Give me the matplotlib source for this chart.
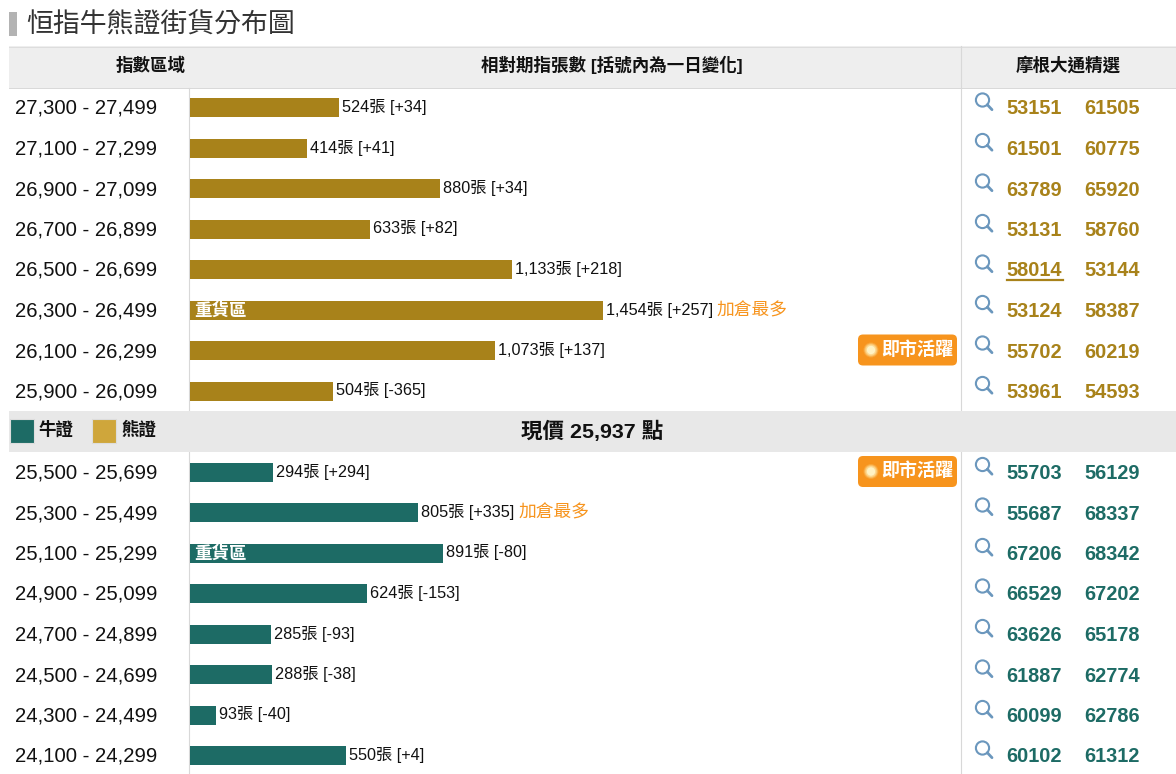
import matplotlib
matplotlib.use('Agg')
import matplotlib.pyplot as plt
from matplotlib.patches import Rectangle, FancyBboxPatch, Circle

plt.rcParams['font.family'] = ['Liberation Sans', 'Noto Sans CJK TC', 'DejaVu Sans']

# 熊證 (上) / 牛證 (下)
bear_ranges = ['27,300 - 27,499', '27,100 - 27,299', '26,900 - 27,099', '26,700 - 26,899',
               '26,500 - 26,699', '26,300 - 26,499', '26,100 - 26,299', '25,900 - 26,099']
bear_values = [524, 414, 880, 633, 1133, 1454, 1073, 504]
bear_change = ['+34', '+41', '+34', '+82', '+218', '+257', '+137', '-365']
bear_codes = [('53151', '61505'), ('61501', '60775'), ('63789', '65920'), ('53131', '58760'),
              ('58014', '53144'), ('53124', '58387'), ('55702', '60219'), ('53961', '54593')]

bull_ranges = ['25,500 - 25,699', '25,300 - 25,499', '25,100 - 25,299', '24,900 - 25,099',
               '24,700 - 24,899', '24,500 - 24,699', '24,300 - 24,499', '24,100 - 24,299']
bull_values = [294, 805, 891, 624, 285, 288, 93, 550]
bull_change = ['+294', '+335', '-80', '-153', '-93', '-38', '-40', '+4']
bull_codes = [('55703', '56129'), ('55687', '68337'), ('67206', '68342'), ('66529', '67202'),
              ('63626', '65178'), ('61887', '62774'), ('60099', '62786'), ('60102', '61312')]

bear_color = '#a8821a'
bull_color = '#1d6b65'
orange = '#f7941d'

W, H = 1176, 774
PX_PER_LOT = 0.2838
ROW_H = 40.5
ROW0 = 107.5


def px(size):
    # 網頁字級 px 轉 pt
    return size * 72 / 100


fig = plt.figure(figsize=(W / 100, H / 100), dpi=100)

# 版面底層, 座標就是像素
bg = fig.add_axes([0, 0, 1, 1])
bg.set_xlim(0, W)
bg.set_ylim(H, 0)
bg.axis('off')

# 長條層, x 是張數, y 是列序號
ax = fig.add_axes([0, 0, 1, 1], facecolor='none')
ax.set_xlim(-190 / PX_PER_LOT, (W - 190) / PX_PER_LOT)
ax.set_ylim((H - ROW0) / ROW_H, -ROW0 / ROW_H)
ax.axis('off')

# 標題
bg.add_patch(Rectangle((9, 12), 8, 24, color='#b3b3b3', lw=0))
bg.text(26, 32, '恒指牛熊證街貨分布圖', fontsize=px(26.9), color='#333333', va='baseline')

# 表頭
bg.add_patch(Rectangle((9, 46), W - 9, 42, color='#eeeeee', lw=0))
bg.plot([9, W], [46.5, 46.5], color='#dddddd', lw=0.7)
bg.plot([9, W], [87.5, 87.5], color='#d8d8d8', lw=0.7)
bg.plot([960.5, 960.5], [46, H], color='#d8d8d8', lw=0.8)
bg.plot([188.5, 188.5], [88, H], color='#d8d8d8', lw=0.8)
bg.text(151, 71, '指數區域', fontsize=px(17.5), fontweight='bold', ha='center', color='#111111')
bg.text(612, 71, '相對期指張數 [括號內為一日變化]', fontsize=px(17.5), fontweight='bold', ha='center', color='#111111')
bg.text(1068, 71, '摩根大通精選', fontsize=px(17.5), fontweight='bold', ha='center', color='#111111')

# 現價列
bg.add_patch(Rectangle((9, 411), W - 9, 41, color='#e8e8e8', lw=0, zorder=3))
bg.add_patch(Rectangle((9.5, 418.5), 24, 24, fc=bull_color, ec='#dddddd', lw=0.8, zorder=4))
bg.add_patch(Rectangle((91.5, 418.5), 24, 24, fc='#cfa63b', ec='#dddddd', lw=0.8, zorder=4))
bg.text(39, 435, '牛證', fontsize=px(17.5), fontweight='bold', color='#111111', zorder=4)
bg.text(121, 435, '熊證', fontsize=px(17.5), fontweight='bold', color='#111111', zorder=4)
bg.text(592, 438, '現價 25,937 點', fontsize=px(21.5), fontweight='bold', ha='center', color='#111111', zorder=4)


def draw_row(i, rng, val, chg, codes, color):
    y = ROW0 + i * ROW_H
    bg.text(15, y + 6.5, rng, fontsize=px(20.3), color='#111111')
    ax.barh(i, val, height=19 / ROW_H, color=color, lw=0)
    lab = ax.annotate(f'{val:,}張 [{chg}]', xy=(val, i), xytext=(3 * 0.72, -4.5 * 0.72),
                      textcoords='offset points', fontsize=px(16.2), color='#111111', va='baseline')
    # 放大鏡
    bg.add_patch(Circle((982.5, y - 7.5), 6.6, fc='none', ec='#6b97bd', lw=1.5))
    bg.plot([987.3, 992], [y - 2.8, y + 2.2], color='#6b97bd', lw=2, solid_capstyle='round')
    bg.text(1006, y + 7, codes[0], fontsize=px(20), fontweight='bold', color=color)
    bg.text(1084, y + 7, codes[1], fontsize=px(20), fontweight='bold', color=color)
    return lab


labels = {}
for i in range(8):
    labels[i] = draw_row(i, bear_ranges[i], bear_values[i], bear_change[i], bear_codes[i], bear_color)
for i in range(8):
    labels[i + 9] = draw_row(i + 9, bull_ranges[i], bull_values[i], bull_change[i], bull_codes[i], bull_color)

# 58014 底線
bg.plot([1007, 1063], [279.5, 279.5], color=bear_color, lw=1.6)

# 重貨區
for i in [5, 11]:
    ax.annotate('重貨區', xy=(0, i), xytext=(4.5 * 0.72, -5.5 * 0.72), textcoords='offset points',
                fontsize=px(17.5), fontweight='bold', color='white', va='baseline')

# 加倉最多
for i in [5, 10]:
    ax.annotate('加倉最多', xy=(1, 0), xycoords=labels[i], xytext=(3.5 * 0.72, -1.5 * 0.72),
                textcoords='offset points', fontsize=px(17.8), color=orange, va='bottom')

# 即市活躍
for i in [6, 9]:
    y = ROW0 + i * ROW_H - 0.5
    bg.add_patch(FancyBboxPatch((858, y - 15.5), 99, 31, boxstyle='round,pad=0,rounding_size=5',
                                fc=orange, ec='none', lw=0))
    for r, c in [(7.5, '#f9a63a'), (6.5, '#fbbf66'), (5.5, '#fdd88f'), (4.2, '#fff2c4')]:
        bg.add_patch(Circle((871, y), r, fc=c, ec='none'))
    bg.text(881, y + 5, '即市活躍', fontsize=px(18), fontweight='bold', color='white')

fig.savefig('out.png', dpi=100)
